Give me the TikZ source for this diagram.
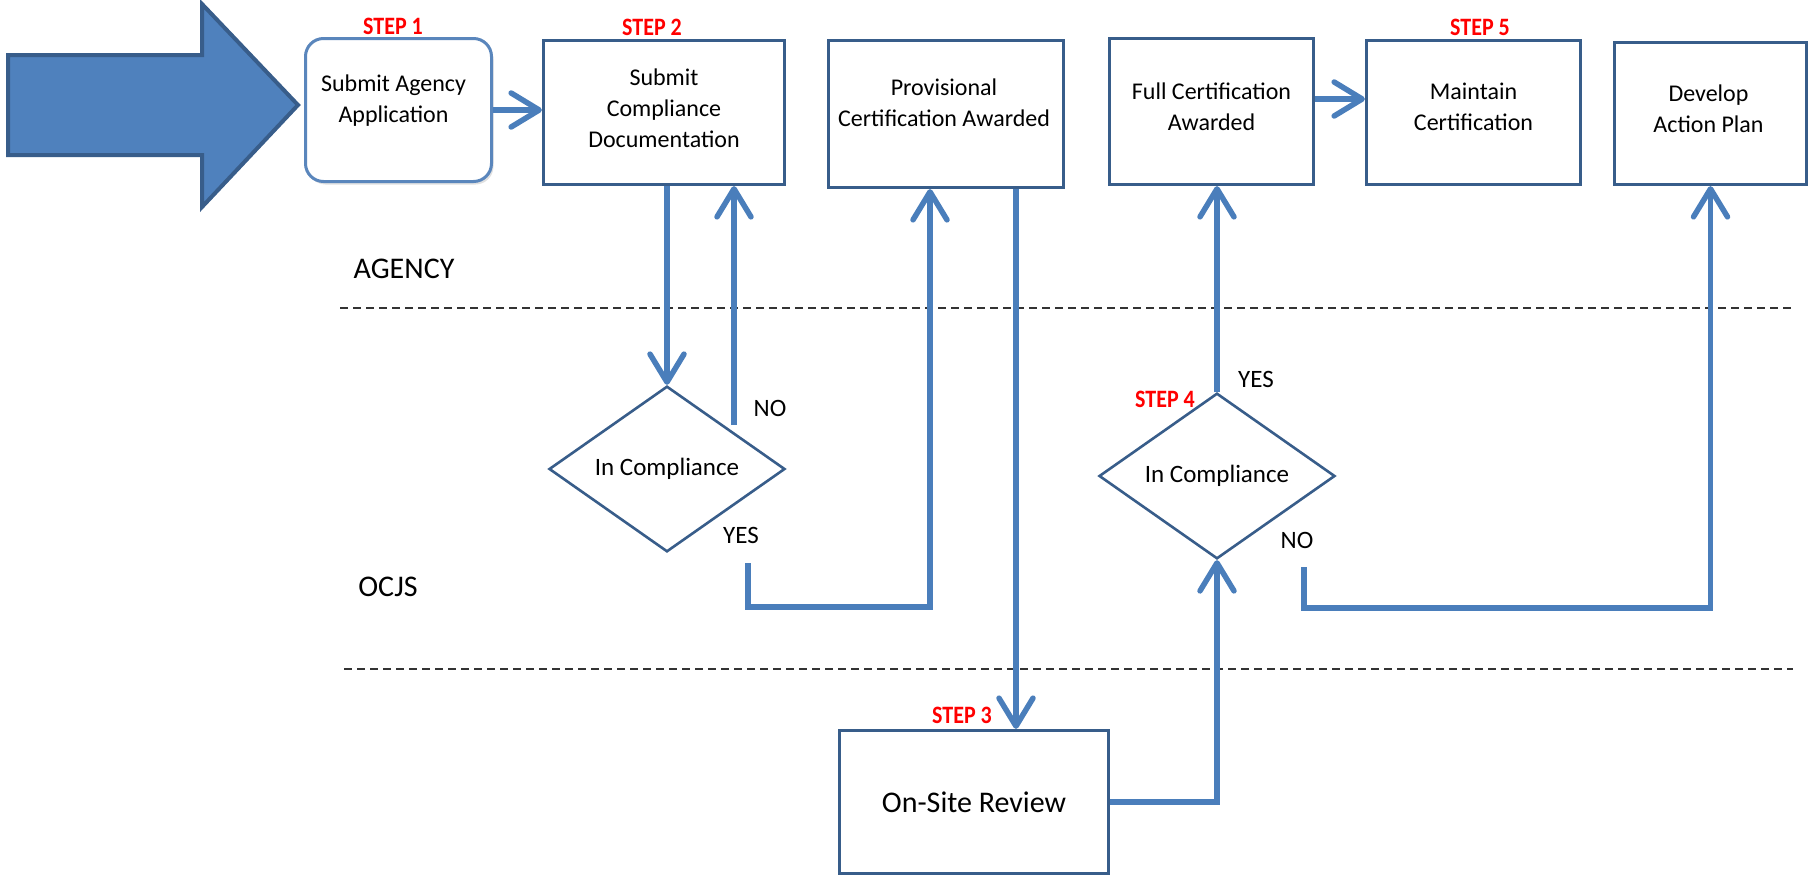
\documentclass[tikz,border=0pt]{standalone}
\usepackage{fontspec}
\setmainfont{Carlito}
\usetikzlibrary{arrows.meta,shapes.geometric,shadows}
\definecolor{linkblue}{HTML}{4A7EBB}
\definecolor{edgeblue}{HTML}{385D8A}
\definecolor{fillblue}{HTML}{4F81BD}
\definecolor{roundblue}{HTML}{5A86BC}
\begin{document}
\begin{tikzpicture}[x=1pt,y=-1pt,
  box/.style={draw=edgeblue, line width=3.2pt, fill=white, rectangle, inner sep=0pt},
  boxtext/.style={align=center, font=\fontsize{24}{31}\selectfont, inner sep=0pt},
  decision/.style={draw=edgeblue, line width=2.6pt, diamond, fill=white, inner sep=0pt,
                   font=\fontsize{25}{30}\selectfont},
  conn/.style={draw=linkblue, line width=5.5pt, -{Straight Barb[length=28pt,width=34pt,round]}},
  lane/.style={font=\fontsize{30}{36}\selectfont, inner sep=0pt},
  answer/.style={font=\fontsize{25}{30}\selectfont, inner sep=0pt},
  steplabel/.style={text=red, font=\bfseries\fontsize{25}{30}\selectfont, inner sep=0pt},
  divider/.style={draw=black!80, line width=1.5pt, dash pattern=on 8pt off 5pt}
]
\useasboundingbox (0,0) rectangle (1816,878);

% swim-lane dividers
\draw[divider] (340,308) -- (1793,308);
\draw[divider] (344,669) -- (1793,669);

% entry arrow
\draw[draw=edgeblue, fill=fillblue, line width=4pt]
  (8,55) -- (202,55) -- (202,4) -- (298,105) -- (202,207) -- (202,155) -- (8,155) -- cycle;

% process boxes
\node[box, rounded corners=18pt, draw=roundblue, line width=3pt,
      minimum width=186pt, minimum height=143pt,
      drop shadow={shadow xshift=2pt, shadow yshift=-3pt, opacity=0.3, fill=black!40}]
      (s1) at (398.5,110) {};
\node[box, minimum width=241pt, minimum height=144pt] (s2) at (664,112.5) {};
\node[box, minimum width=235pt, minimum height=147pt] (prov) at (946,114) {};
\node[box, minimum width=204pt, minimum height=146pt] (full) at (1211.5,111.5) {};
\node[box, minimum width=214pt, minimum height=144pt] (maint) at (1473.5,112.5) {};
\node[box, minimum width=192pt, minimum height=142pt] (dev) at (1710.5,113.5) {};
\node[box, minimum width=269pt, minimum height=143pt, font=\fontsize{30}{36}\selectfont]
      (onsite) at (974,802) {On-Site Review};

% box captions
\node[boxtext] (t1) at ([xshift=-5pt,yshift=9pt]s1.center) {Submit Agency\\Application};
\node[boxtext] (t2) at ([yshift=4.5pt]s2.center) {Submit\\Compliance\\Documentation};
\node[boxtext] (t3) at ([xshift=-2pt,yshift=11pt]prov.center) {Provisional\\Certification Awarded};
\node[boxtext] (t4) at ([yshift=5pt]full.center) {Full Certification\\Awarded};
\node[boxtext] (t5) at ([yshift=5.5pt]maint.center) {Maintain\\Certification};
\node[boxtext] (t6) at ([xshift=-2pt,yshift=4.5pt]dev.center) {Develop\\Action Plan};

% decisions
\node[decision, minimum width=236pt, minimum height=164pt] (d1) at (667,469) {In Compliance};
\node[decision, minimum width=236pt, minimum height=158pt] (d2) at (1217,476) {In Compliance};

% loose ends of the decision outlets
\coordinate (no1) at (734,425);
\coordinate (yes1) at (748,563);
\coordinate (no2) at (1304,567);

% connectors
\draw[conn] (s1.east) -- (s1.east -| s2.west);
\draw[conn] (d1.north |- s2.south) -- (d1.north);
\draw[conn] (no1) -- (no1 |- s2.south);
\draw[conn] (yes1) -- ++(0,44) -| ([xshift=-16pt]prov.south);
\draw[conn] ([xshift=70pt]prov.south) -- ([xshift=70pt]prov.south |- onsite.north);
\draw[conn] (onsite.east) -| (d2.south);
\draw[conn] (d2.north) -- (d2.north |- full.south);
\draw[conn] ([yshift=12.5pt]full.east) -- ([yshift=12.5pt]full.east -| maint.west);
\draw[conn] (no2) -- ++(0,41) -| (dev.south);

% answers
\node[answer] (n1) at (770,408) {NO};
\node[answer] (y1) at (741,535) {YES};
\node[answer] (y2) at (1256,379) {YES};
\node[answer] (n2) at (1297,540) {NO};

% lanes
\node[lane] (agency) at (404,269) {AGENCY};
\node[lane] (ocjs) at (388,587) {OCJS};

% step markers
\node[steplabel] (st1) at (393,26) {\scalebox{0.88}[1]{STEP 1}};
\node[steplabel] (st2) at (652,27) {\scalebox{0.88}[1]{STEP 2}};
\node[steplabel] (st3) at (962,715) {\scalebox{0.88}[1]{STEP 3}};
\node[steplabel] (st4) at (1165,399) {\scalebox{0.88}[1]{STEP 4}};
\node[steplabel] (st5) at (1480,27) {\scalebox{0.88}[1]{STEP 5}};
\end{tikzpicture}
\end{document}
